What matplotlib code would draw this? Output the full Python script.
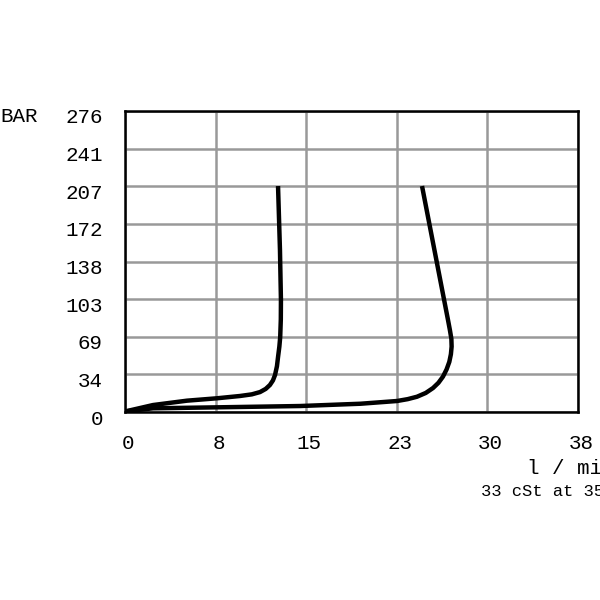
import matplotlib
matplotlib.use("Agg")
import matplotlib.pyplot as plt
from matplotlib.transforms import ScaledTranslation

# flow (l/min) vs pressure (bar)
flow_a = [0.0, 2.32, 5.13, 7.62, 9.52, 10.5, 11.18, 11.65, 12.0, 12.25, 12.42, 12.58, 12.67, 12.78, 12.85, 12.9, 12.91, 12.83, 12.67]
pres_a = [0.5, 6.4, 10.4, 12.6, 14.7, 16.2, 18.3, 21.2, 24.8, 29.0, 33.9, 42.0, 50.4, 60.0, 68.8, 85.0, 102.7, 148.5, 207.2]

flow_b = [0.0, 2.32, 7.62, 14.49, 19.5, 22.52, 23.4, 24.17, 24.9, 25.5, 25.95, 26.32, 26.62, 26.85, 26.98, 27.04, 27.02, 26.9, 26.74, 24.59]
pres_b = [0.5, 3.4, 4.3, 5.5, 7.6, 10.1, 11.8, 14.0, 17.5, 22.0, 26.8, 32.4, 39.0, 46.0, 53.0, 60.0, 67.0, 75.0, 84.4, 207.2]

x_ticks = [0, 7.5, 15, 22.5, 30, 37.5]
x_labels = ["0", "8", "15", "23", "30", "38"]
y_ticks = [0, 34.5, 69, 103.5, 138, 172.5, 207, 241.5, 276]
y_labels = ["0", "34", "69", "103", "138", "172", "207", "241", "276"]

mono = ["Liberation Mono", "DejaVu Sans Mono"]

fig = plt.figure(figsize=(6, 6), dpi=100)
ax = fig.add_axes([0.2083, 0.3133, 0.755, 0.5017])

for fx, py in [(flow_a, pres_a), (flow_b, pres_b)]:
    ax.plot(fx, py, color="black", lw=3.2, solid_joinstyle="round", solid_capstyle="butt", zorder=3)

ax.set_xlim(0, 37.5)
ax.set_ylim(0, 276)
ax.set_xticks(x_ticks)
ax.set_xticklabels(x_labels, fontfamily=mono, fontsize=15)
ax.set_yticks(y_ticks)
ax.set_yticklabels(y_labels, fontfamily=mono, fontsize=15)
ax.tick_params(axis="y", length=0, pad=16)
ax.tick_params(axis="x", length=0, pad=16)
# labels in the reference sit a little below their grid lines / right of their ticks
yshift = ScaledTranslation(0, -5 / 100, fig.dpi_scale_trans)
for lbl in ax.get_yticklabels():
    lbl.set_transform(lbl.get_transform() + yshift)
xshift = ScaledTranslation(3 / 100, 0, fig.dpi_scale_trans)
for lbl in ax.get_xticklabels():
    lbl.set_transform(lbl.get_transform() + xshift)
ax.grid(True, color="#999999", lw=1.8)
ax.set_axisbelow(True)
for s in ax.spines.values():
    s.set_linewidth(1.8)
    s.set_color("black")

fig.text(0.0, 1 - 116 / 600, "BAR", fontfamily=mono, fontsize=15, ha="left", va="center")
fig.text(527 / 600, 1 - 469 / 600, "l / min", fontfamily=mono, fontsize=15, ha="left", va="center")
fig.text(481 / 600, 1 - 491 / 600, "33 cSt at 35°C", fontfamily=mono, fontsize=12.3, ha="left", va="center")

fig.savefig("out.png", dpi=100)
